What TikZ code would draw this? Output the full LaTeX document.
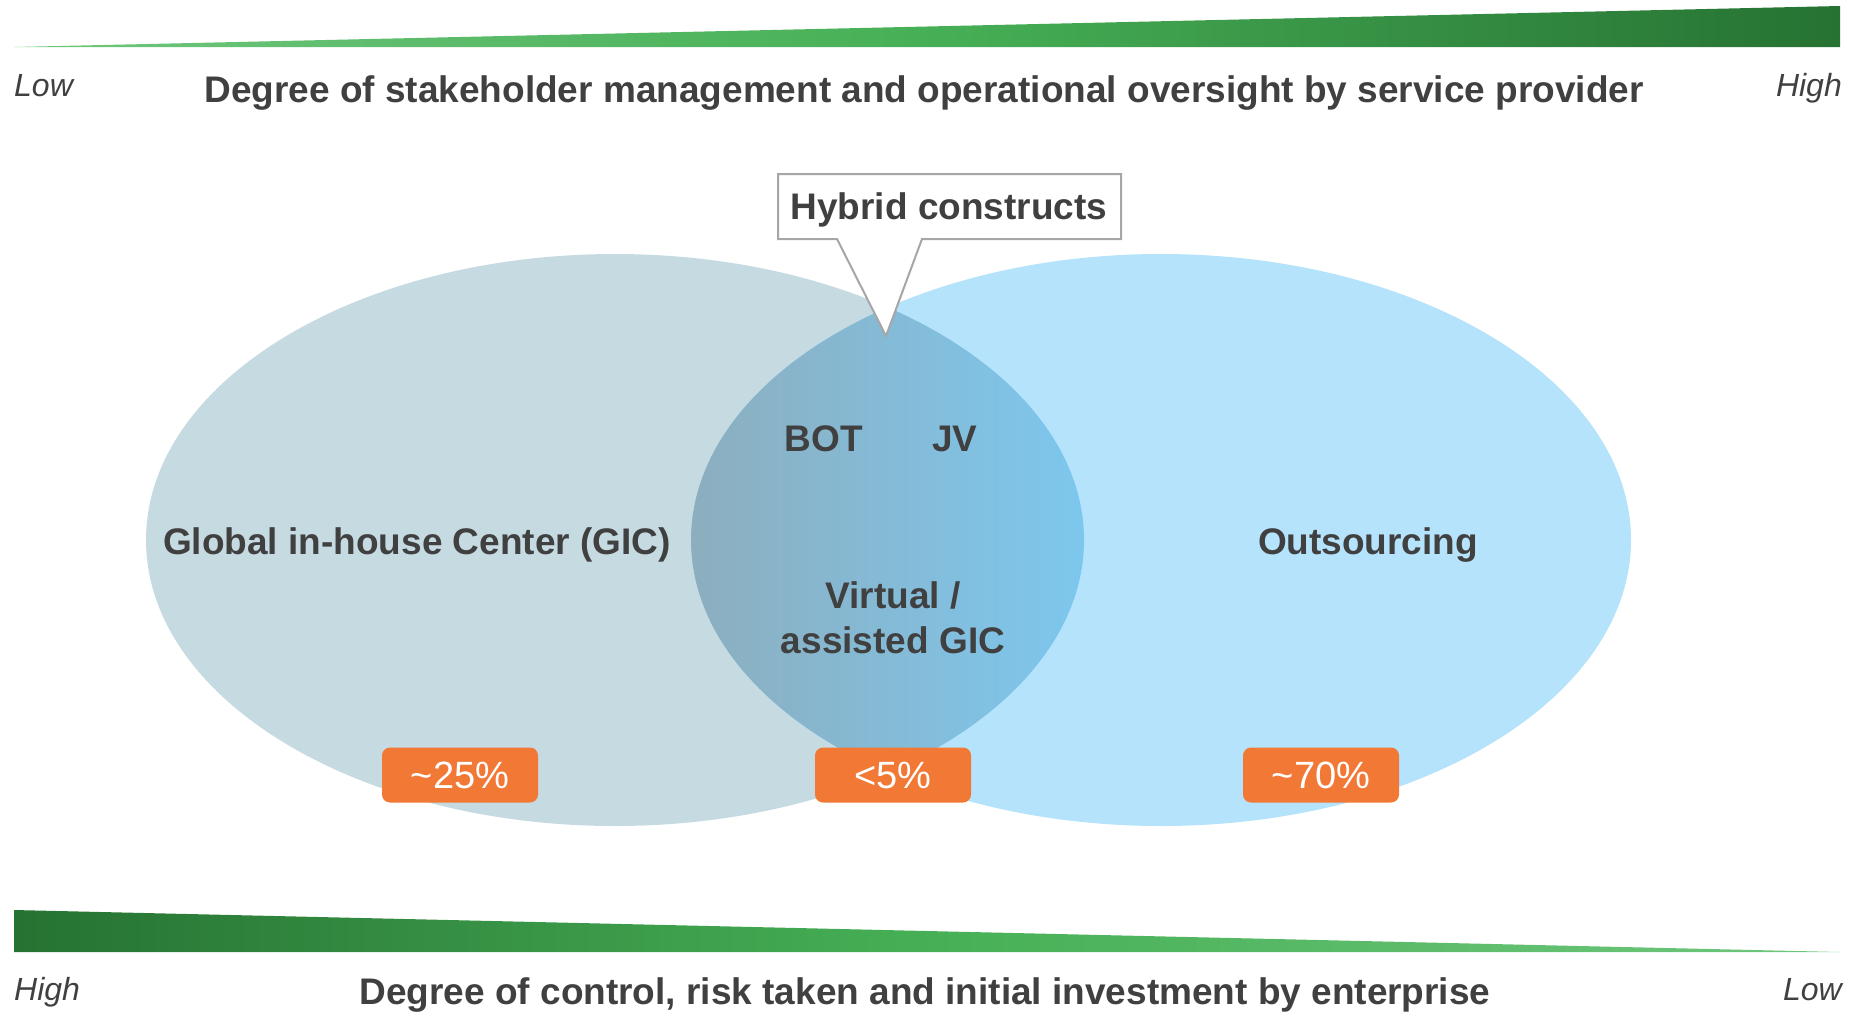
\documentclass[tikz,border=0pt]{standalone}
\usepackage{fontspec}
\setmainfont{Liberation Sans}
\usetikzlibrary{shapes.geometric}
\definecolor{txt}{HTML}{404040}
\definecolor{gicfill}{HTML}{C6DAE2}
\definecolor{outfill}{HTML}{B4E3FB}
\definecolor{midL}{HTML}{8CAEBE}
\definecolor{midR}{HTML}{7DC7EE}
\definecolor{grlight}{HTML}{4BB85B}
\definecolor{grdark}{HTML}{267232}
\definecolor{orng}{HTML}{F27835}
\definecolor{callout}{HTML}{A6A6A6}
\tikzset{
  lbl/.style={text=txt, font=\fontsize{37}{44}\selectfont\bfseries, inner sep=0pt},
  axis/.style={text=txt, font=\fontsize{37}{44}\selectfont\bfseries, inner sep=0pt, anchor=base},
  endlbl/.style={text=txt, font=\fontsize{32}{38}\selectfont\itshape, inner sep=0pt, anchor=base},
  pct/.style={fill=orng, rounded corners=8pt, minimum width=156pt, minimum height=55pt,
    text=white, font=\fontsize{38}{44}\selectfont, inner sep=0pt},
}
\begin{document}
\begin{tikzpicture}[x=1pt,y=-1pt]
\useasboundingbox (0,0) rectangle (1854,1013);
% top wedge
\shade[left color=grlight!80, right color=grdark, middle color=grlight!88!grdark]
  (14,47) -- (1840,6) -- (1840,47) -- cycle;
% bottom wedge
\shade[left color=grdark, right color=grlight!80, middle color=grlight!88!grdark]
  (14,910) -- (1840,952) -- (14,952) -- cycle;
% ellipses
\fill[gicfill] (615,540) ellipse [x radius=469pt, y radius=286pt];
\fill[outfill] (1161,540) ellipse [x radius=470pt, y radius=286pt];
\begin{scope}
  \clip (615,540) ellipse [x radius=469pt, y radius=286pt];
  \clip (1161,540) ellipse [x radius=470pt, y radius=286pt];
  \shade[left color=midL, right color=midR] (690,250) rectangle (1085,830);
\end{scope}
% callout
\draw[callout, line width=2pt, fill=white, line join=miter]
  (778,174) -- (1121,174) -- (1121,239) -- (922,239) -- (886,336) -- (837,239) -- (778,239) -- cycle;
\node[lbl] (hyb) at (949,210) {Hybrid constructs};
% labels
\node[endlbl, anchor=base west] (lowtop) at (14,96) {Low};
\node[endlbl, anchor=base east] (hightop) at (1842,96) {High};
\node[axis] (toptitle) at (924,102) {Degree of stakeholder management and operational oversight by service provider};
\node[endlbl, anchor=base west] (highbot) at (14,1000) {High};
\node[endlbl, anchor=base east] (lowbot) at (1842,1000) {Low};
\node[axis] (bottitle) at (925,1004) {Degree of control, risk taken and initial investment by enterprise};
\node[lbl] (gic) at (417,545) {Global in-house Center (GIC)};
\node[lbl] (out) at (1368,545) {Outsourcing};
\node[lbl] (bot) at (824,439) {BOT};
\node[lbl] (jv) at (955,439) {JV};
\node[lbl, align=center, font=\fontsize{37}{45}\selectfont\bfseries] (virt) at (893,618) {Virtual /\\assisted GIC};
% percentages
\node[pct] (p25) at (460,775) {\char`\~25\%};
\node[pct] (p5) at (893,775) {<5\%};
\node[pct] (p70) at (1321,775) {\char`\~70\%};
\end{tikzpicture}
\end{document}
